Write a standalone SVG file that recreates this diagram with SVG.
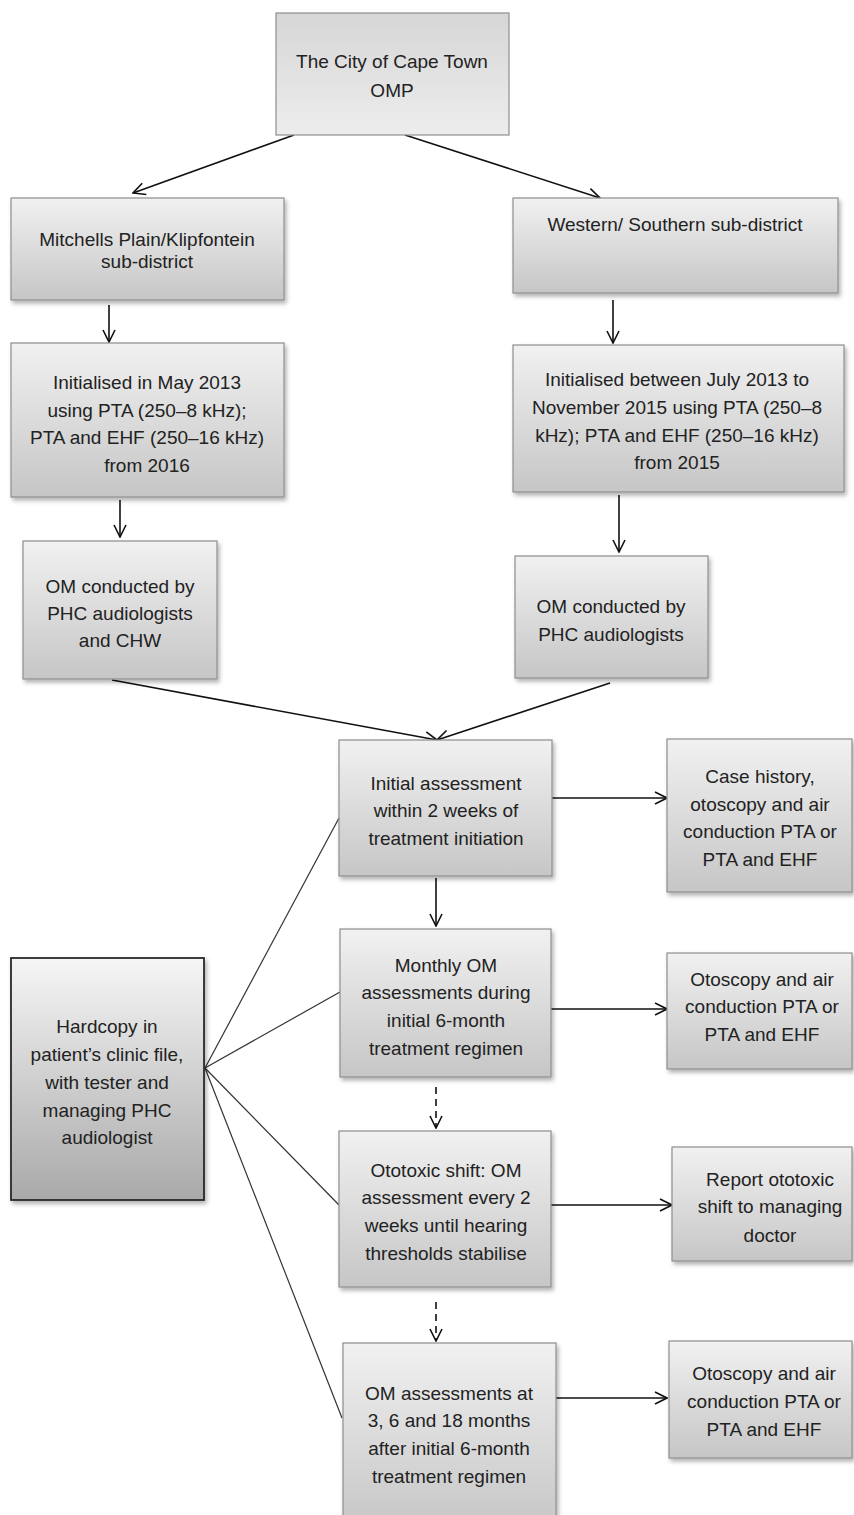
<svg xmlns="http://www.w3.org/2000/svg" width="854" height="1515" viewBox="0 0 854 1515">
<defs>
<linearGradient id="gBox" x1="0" y1="0" x2="0" y2="1">
<stop offset="0" stop-color="#f1f1f1"/>
<stop offset="1" stop-color="#c6c6c6"/>
</linearGradient>
<linearGradient id="gTop" x1="0" y1="0" x2="0" y2="1">
<stop offset="0" stop-color="#d6d6d6"/>
<stop offset="1" stop-color="#ededed"/>
</linearGradient>
<linearGradient id="gHard" x1="0" y1="0" x2="0" y2="1">
<stop offset="0" stop-color="#f6f6f6"/>
<stop offset="1" stop-color="#a9a9a9"/>
</linearGradient>
<filter id="sh" x="-10%" y="-10%" width="125%" height="125%">
<feDropShadow dx="2" dy="3" stdDeviation="2" flood-color="#000" flood-opacity="0.3"/>
</filter>
<marker id="arr" viewBox="0 0 14 14" markerWidth="14" markerHeight="14" refX="13" refY="7" orient="auto" markerUnits="userSpaceOnUse">
<path d="M1,1 L13,7 L1,13" fill="none" stroke="#111" stroke-width="1.6"/>
</marker>
</defs>
<style>
.box{fill:url(#gBox);stroke:#8e8e8e;stroke-width:1.2;filter:url(#sh)}
.top{fill:url(#gTop);stroke:#8e8e8e;stroke-width:1.2}
.hard{fill:url(#gHard);stroke:#2a2a2a;stroke-width:1.8;filter:url(#sh)}
text{font-family:"Liberation Sans",Arial,sans-serif;font-size:19px;fill:#222;text-anchor:middle}
.c{fill:none;stroke:#111;stroke-width:1.6;marker-end:url(#arr)}
.d{fill:none;stroke:#111;stroke-width:1.6;stroke-dasharray:7 5;marker-end:url(#arr)}
.f{fill:none;stroke:#333;stroke-width:1.2}
</style>
<g id="connectors">
<line class="c" x1="294" y1="135" x2="133" y2="193"/>
<line class="c" x1="405" y1="135" x2="600" y2="198"/>
<line class="c" x1="109" y1="305" x2="109" y2="342"/>
<line class="c" x1="613" y1="300" x2="613" y2="343"/>
<line class="c" x1="120" y1="500" x2="120" y2="537"/>
<line class="c" x1="619" y1="495" x2="619" y2="552"/>
<line class="c" x1="112" y1="680" x2="437" y2="740"/>
<line class="c" x1="610" y1="683" x2="437" y2="740"/>
<line class="c" x1="552" y1="798" x2="667" y2="798"/>
<line class="c" x1="436" y1="878" x2="436" y2="926"/>
<line class="c" x1="551" y1="1009" x2="667" y2="1009"/>
<line class="d" x1="436" y1="1087" x2="436" y2="1128"/>
<line class="c" x1="551" y1="1205" x2="672" y2="1205"/>
<line class="d" x1="436" y1="1302" x2="436" y2="1341"/>
<line class="c" x1="553" y1="1398" x2="667" y2="1398"/>
<line class="f" x1="205" y1="1068" x2="339" y2="818"/>
<line class="f" x1="205" y1="1068" x2="340" y2="992"/>
<line class="f" x1="205" y1="1068" x2="339" y2="1205"/>
<line class="f" x1="205" y1="1068" x2="342" y2="1418"/>
</g>
<g id="n-top">
<rect class="top" x="276" y="13" width="233" height="122"/>
<text x="392" y="68">The City of Cape Town</text>
<text x="392" y="97">OMP</text>
</g>
<g id="n-mitchells">
<rect class="box" x="11" y="198" width="273" height="102"/>
<text x="147" y="246">Mitchells Plain/Klipfontein</text>
<text x="147" y="268">sub-district</text>
</g>
<g id="n-western">
<rect class="box" x="513" y="198" width="325" height="95"/>
<text x="675" y="231">Western/ Southern sub-district</text>
</g>
<g id="n-init-left">
<rect class="box" x="11" y="343" width="273" height="154"/>
<text x="147" y="389">Initialised in May 2013</text>
<text x="147" y="417">using PTA (250–8 kHz);</text>
<text x="147" y="444">PTA and EHF (250–16 kHz)</text>
<text x="147" y="472">from 2016</text>
</g>
<g id="n-init-right">
<rect class="box" x="513" y="345" width="331" height="147"/>
<text x="677" y="386">Initialised between July 2013 to</text>
<text x="677" y="414">November 2015 using PTA (250–8</text>
<text x="677" y="442">kHz); PTA and EHF (250–16 kHz)</text>
<text x="677" y="469">from 2015</text>
</g>
<g id="n-om-left">
<rect class="box" x="23" y="541" width="194" height="138"/>
<text x="120" y="593">OM conducted by</text>
<text x="120" y="620">PHC audiologists</text>
<text x="120" y="647">and CHW</text>
</g>
<g id="n-om-right">
<rect class="box" x="515" y="556" width="193" height="122"/>
<text x="611" y="613">OM conducted by</text>
<text x="611" y="641">PHC audiologists</text>
</g>
<g id="n-initial">
<rect class="box" x="339" y="740" width="213" height="136"/>
<text x="446" y="790">Initial assessment</text>
<text x="446" y="817">within 2 weeks of</text>
<text x="446" y="845">treatment initiation</text>
</g>
<g id="n-case">
<rect class="box" x="667" y="739" width="185" height="153"/>
<text x="760" y="783">Case history,</text>
<text x="760" y="811">otoscopy and air</text>
<text x="760" y="838">conduction PTA or</text>
<text x="760" y="866">PTA and EHF</text>
</g>
<g id="n-monthly">
<rect class="box" x="340" y="929" width="211" height="148"/>
<text x="446" y="972">Monthly OM</text>
<text x="446" y="999">assessments during</text>
<text x="446" y="1027">initial 6-month</text>
<text x="446" y="1055">treatment regimen</text>
</g>
<g id="n-oto1">
<rect class="box" x="667" y="953" width="185" height="116"/>
<text x="762" y="986">Otoscopy and air</text>
<text x="762" y="1013">conduction PTA or</text>
<text x="762" y="1041">PTA and EHF</text>
</g>
<g id="n-hardcopy">
<rect class="hard" x="11" y="958" width="193" height="242"/>
<text x="107" y="1033">Hardcopy in</text>
<text x="107" y="1061">patient’s clinic file,</text>
<text x="107" y="1089">with tester and</text>
<text x="107" y="1117">managing PHC</text>
<text x="107" y="1144">audiologist</text>
</g>
<g id="n-ototoxic">
<rect class="box" x="339" y="1131" width="212" height="156"/>
<text x="446" y="1177">Ototoxic shift: OM</text>
<text x="446" y="1204">assessment every 2</text>
<text x="446" y="1232">weeks until hearing</text>
<text x="446" y="1260">thresholds stabilise</text>
</g>
<g id="n-report">
<rect class="box" x="672" y="1147" width="180" height="114"/>
<text x="770" y="1186">Report ototoxic</text>
<text x="770" y="1213">shift to managing</text>
<text x="770" y="1242">doctor</text>
</g>
<g id="n-om-assess">
<rect class="box" x="343" y="1343" width="213" height="185"/>
<text x="449" y="1400">OM assessments at</text>
<text x="449" y="1427">3, 6 and 18 months</text>
<text x="449" y="1455">after initial 6-month</text>
<text x="449" y="1483">treatment regimen</text>
</g>
<g id="n-oto2">
<rect class="box" x="669" y="1341" width="183" height="117"/>
<text x="764" y="1380">Otoscopy and air</text>
<text x="764" y="1408">conduction PTA or</text>
<text x="764" y="1436">PTA and EHF</text>
</g>
</svg>
